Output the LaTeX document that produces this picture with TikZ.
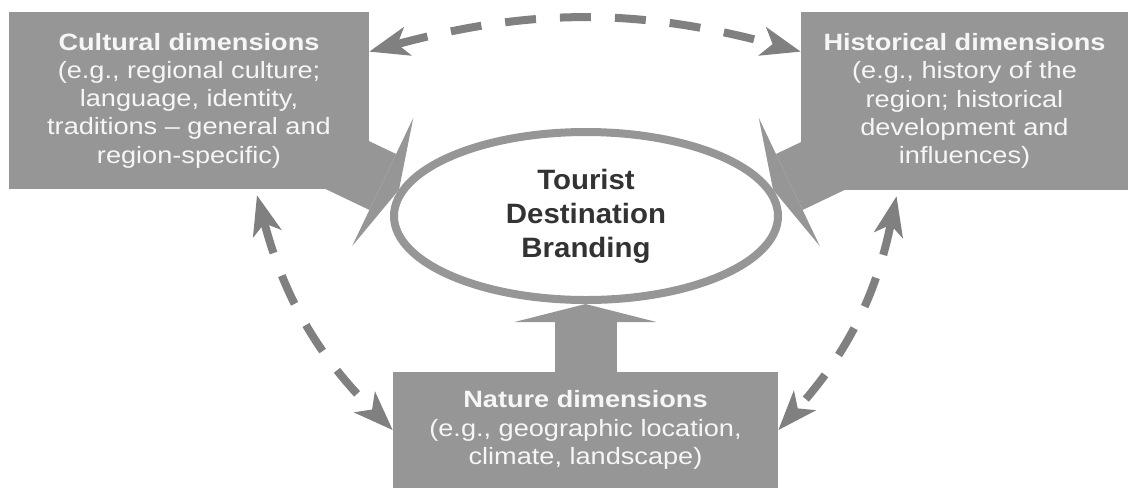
\documentclass[tikz,border=0pt]{standalone}
\usepackage{fontspec}
\setmainfont{Liberation Sans}[FakeStretch=1.15]
\newfontfamily\brandfont{Liberation Sans}[FakeStretch=1.05]
\usetikzlibrary{arrows.meta,shapes.geometric}
\definecolor{boxgray}{RGB}{150,150,150}
\definecolor{linkgray}{RGB}{128,128,128}
\definecolor{brandtext}{RGB}{51,51,51}
\definecolor{boxtext}{RGB}{246,246,246}
\pgfdeclarelayer{background}
\pgfsetlayers{background,main}
\tikzset{
    dimbox/.style={rectangle, fill=boxgray, text=boxtext, align=center, inner sep=0pt,
        font=\fontsize{11.8}{14.15}\selectfont},
    brandring/.style={ellipse, draw=boxgray, line width=4pt, fill=white, text=brandtext,
        align=center, inner sep=0pt, font=\brandfont\bfseries\fontsize{14}{17}\selectfont},
    blockarrow/.style={draw=boxgray, line width=31pt,
        -{Triangle[length=9pt,width=71pt,line width=0pt]}},
    linktip/.tip={Stealth[length=20pt,width=15pt,inset=5.5pt,line width=0pt]},
    linkarrow/.style={draw=linkgray, line width=4pt, dash pattern=on 15.5pt off 12pt,
        linktip-linktip},
}

\begin{document}
\begin{tikzpicture}[x=0.5pt,y=-0.5pt]
    \useasboundingbox (0,0) rectangle (1128,488);
    \node[dimbox, minimum width=180pt, minimum height=88.5pt] (cult) at (189,100.5)
        {\textbf{Cultural dimensions}\\(e.g., regional culture;\\language, identity,\\traditions – general and\\region-specific)};
    \node[dimbox, minimum width=163.5pt, minimum height=89pt] (hist) at (964.5,101)
        {\textbf{Historical dimensions}\\(e.g., history of the\\region; historical\\development and\\influences)};
    \node[dimbox, minimum width=192.5pt, minimum height=58pt] (nat) at (585.5,430)
        {\textbf{Nature dimensions}\\(e.g., geographic location,\\climate, landscape)};
    \node[brandring, minimum width=192pt, minimum height=84pt] (brand) at (586,216)
        {Tourist\\Destination\\Branding};
    \begin{pgfonlayer}{background} % block arrows into the brand
        \draw[blockarrow] ([xshift=-17pt,yshift=15pt]cult.south east) -- (brand.172);
        \draw[blockarrow] ([xshift=17pt,yshift=15pt]hist.south west) -- (brand.8);
        \draw[blockarrow] (nat.north) -- (nat.north |- brand.south);
    \end{pgfonlayer}
    % dashed links between dimensions
    \draw[linkarrow] ([yshift=-20pt]cult.north east) to[bend left=15] ([yshift=-20pt]hist.north west);
    \draw[linkarrow] ([xshift=34pt,yshift=-3pt]cult.south) to[bend right=15] (nat.west);
    \draw[linkarrow] ([xshift=-34pt,yshift=-3pt]hist.south) to[bend left=15] (nat.east);
\end{tikzpicture}
\end{document}
